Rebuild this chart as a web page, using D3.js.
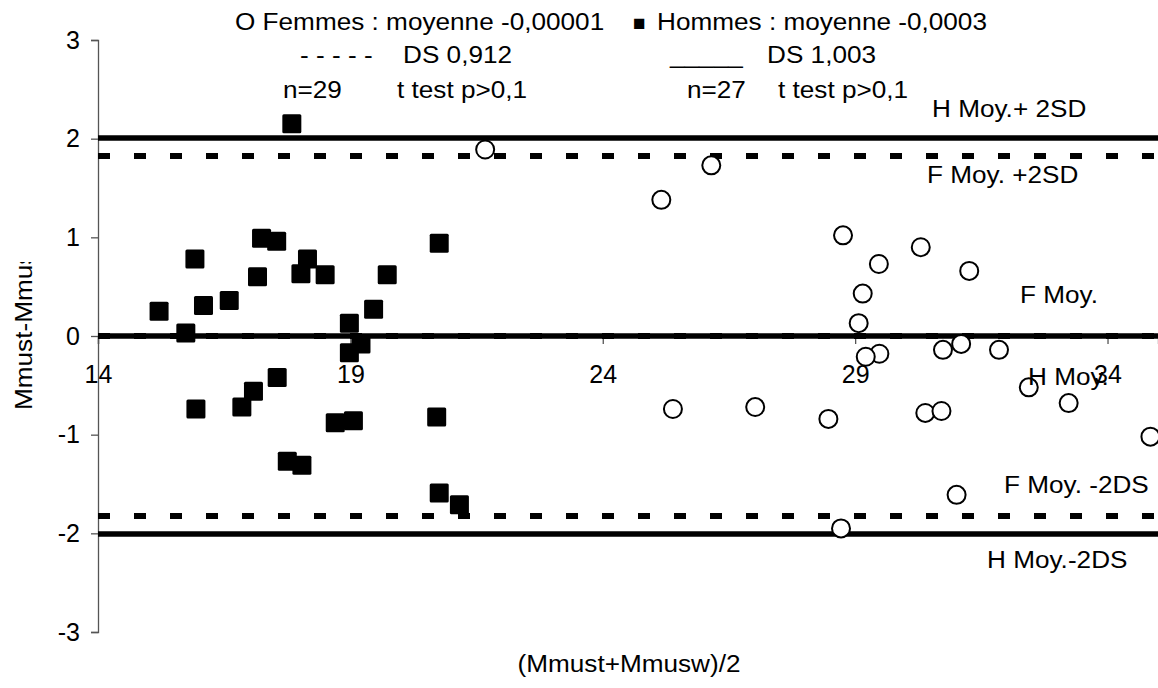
<!DOCTYPE html>
<html>
<head>
<meta charset="utf-8">
<script src="https://cdn.jsdelivr.net/npm/d3@7"></script>
<style>
  html, body { margin: 0; padding: 0; background: #fff; }
  svg { display: block; font-family: "Liberation Sans", Arial, sans-serif; }
</style>
</head>
<body>
<svg id="chart" width="1158" height="688"></svg>
<script>
// Bland-Altman style comparison: difference vs mean of the two measurements

// Hommes (filled squares): mean of measurements, difference
const hommesX = [17.84, 15.92, 17.24, 17.54, 17.16, 18.15, 18.02, 18.50, 19.73, 20.76,
                 15.21, 16.09, 16.60, 19.46, 18.98, 15.74, 19.21, 18.98, 17.55, 17.08,
                 16.85, 15.94, 18.70, 19.06, 20.71, 17.75, 18.04, 20.76, 21.16];
const hommesY = [2.15, 0.78, 0.99, 0.96, 0.60, 0.78, 0.63, 0.62, 0.62, 0.94,
                 0.25, 0.31, 0.36, 0.27, 0.13, 0.03, -0.08, -0.17, -0.42, -0.56,
                 -0.72, -0.74, -0.88, -0.86, -0.82, -1.27, -1.31, -1.59, -1.71];

// Femmes (open circles)
const femmesX = [21.67, 26.15, 25.16, 25.39, 27.02, 28.47, 28.76, 30.30, 29.47, 31.26,
                 29.15, 29.07, 31.10, 30.74, 31.85, 29.48, 29.21, 32.44, 33.23, 30.39,
                 30.71, 34.85, 31.01, 28.72];
const femmesY = [1.89, 1.73, 1.38, -0.74, -0.72, -0.84, 1.02, 0.90, 0.73, 0.66,
                 0.43, 0.13, -0.08, -0.14, -0.14, -0.18, -0.21, -0.52, -0.68, -0.78,
                 -0.76, -1.02, -1.61, -1.95];

// Summary statistics
const hMean = -0.0003, hSD = 1.003;
const fMean = -0.00001, fSD = 0.912;

// Reference lines: solid for Hommes, dashed for Femmes
const refValues = [hMean + 2 * hSD, hMean, hMean - 2 * hSD, fMean + 2 * fSD, fMean, fMean - 2 * fSD];
const refDashed = [false, false, false, true, true, true];

// Axes
const xTicks = [14, 19, 24, 29, 34];
const yTicks = [-3, -2, -1, 0, 1, 2, 3];
const xDomain = [14, 35];
const yDomain = [-3, 3];

const svg = d3.select("#chart");
const W = 1158, H = 688;
const plotLeft = 98, plotRight = 1158, plotTop = 40, plotBottom = 632;

const x = d3.scaleLinear().domain(xDomain).range([plotLeft, plotRight]);
const y = d3.scaleLinear().domain(yDomain).range([plotBottom, plotTop]);

const SX = 1.09; // horizontal stretch of the lettering
function label(px, py, str, anchor, size) {
  svg.append("text")
    .attr("transform", `translate(${px},${py}) scale(${SX},1)`)
    .attr("text-anchor", anchor || "start")
    .attr("font-size", (size || 24) + "px")
    .attr("fill", "#000")
    .text(str);
}

// Plain hyphen for negatives
const tickFmt = d => String(d);

// Y axis
const yAxis = svg.append("g")
  .attr("transform", `translate(${plotLeft},0)`)
  .call(d3.axisLeft(y).tickValues(yTicks).tickSize(7).tickPadding(11).tickFormat(tickFmt));
yAxis.select(".domain").attr("stroke", "#555").attr("stroke-width", 1.3);
yAxis.selectAll(".tick line").attr("stroke", "#555").attr("stroke-width", 1.3);
yAxis.selectAll("text").attr("font-size", "25px").attr("fill", "#000")
  .attr("font-family", "'Liberation Sans', Arial, sans-serif");

// X axis crossing at y = 0
const xAxis = svg.append("g")
  .attr("transform", `translate(0,${y(0)})`)
  .call(d3.axisBottom(x).tickValues(xTicks).tickSize(8).tickPadding(21).tickFormat(tickFmt));
xAxis.select(".domain").attr("stroke", "#555").attr("stroke-width", 1.3);
xAxis.selectAll(".tick line").attr("stroke", "#555").attr("stroke-width", 1.3);
xAxis.selectAll("text").attr("font-size", "25px").attr("fill", "#000")
  .attr("font-family", "'Liberation Sans', Arial, sans-serif");

// Reference lines (solid first, dashed on top)
const refData = refValues.map((v, i) => ({ v, dashed: refDashed[i] }))
  .sort((a, b) => a.dashed - b.dashed);
svg.append("g").selectAll("line")
  .data(refData)
  .join("line")
  .attr("x1", x(xDomain[0]))
  .attr("x2", x(xDomain[1]))
  .attr("y1", d => y(d.v))
  .attr("y2", d => y(d.v))
  .attr("stroke", "#000")
  .attr("stroke-width", d => d.dashed ? 6 : 5.5)
  .attr("stroke-dasharray", d => d.dashed ? "12,24" : null);

// Hommes markers
const sq = 19;
svg.append("g").selectAll("rect")
  .data(hommesX.map((v, i) => [v, hommesY[i]]))
  .join("rect")
  .attr("x", d => x(d[0]) - sq / 2)
  .attr("y", d => y(d[1]) - sq / 2)
  .attr("width", sq)
  .attr("height", sq)
  .attr("rx", 1.5)
  .attr("fill", "#000");

// Femmes markers
svg.append("g").selectAll("circle")
  .data(femmesX.map((v, i) => [v, femmesY[i]]))
  .join("circle")
  .attr("cx", d => x(d[0]))
  .attr("cy", d => y(d[1]))
  .attr("r", 9)
  .attr("fill", "#fff")
  .attr("stroke", "#000")
  .attr("stroke-width", 2);

// Header lines
label(235, 30, "O Femmes : moyenne -0,00001");
svg.append("text").attr("x", 633).attr("y", 30).attr("font-size", "21px").text("\u25A0");
label(657, 30, "Hommes : moyenne -0,0003");
label(300, 63, "- - - - -");
label(403, 63, "DS 0,912");
label(670, 63, "_____");
label(767, 63, "DS 1,003");
label(283, 98, "n=29");
label(397, 98, "t test p>0,1");
label(687, 98, "n=27");
label(778, 98, "t test p>0,1");

// Line annotations
label(932, 117, "H Moy.+ 2SD");
label(927, 183, "F Moy. +2SD");
label(1020, 303, "F Moy.");
label(1028, 385, "H Moy.");
label(1004, 493, "F Moy. -2DS");
label(987, 568, "H Moy.-2DS");

// Axis titles
label(629, 672, "(Mmust+Mmusw)/2", "middle");
svg.append("clipPath").attr("id", "ytitle-clip")
  .append("rect").attr("x", 0).attr("y", 262).attr("width", 60).attr("height", H - 262);
svg.append("g").attr("clip-path", "url(#ytitle-clip)")
  .append("text")
  .attr("transform", `translate(32,410) rotate(-90) scale(${SX},1)`)
  .attr("font-size", "24px")
  .text("Mmust-Mmusw");
</script>
</body>
</html>
